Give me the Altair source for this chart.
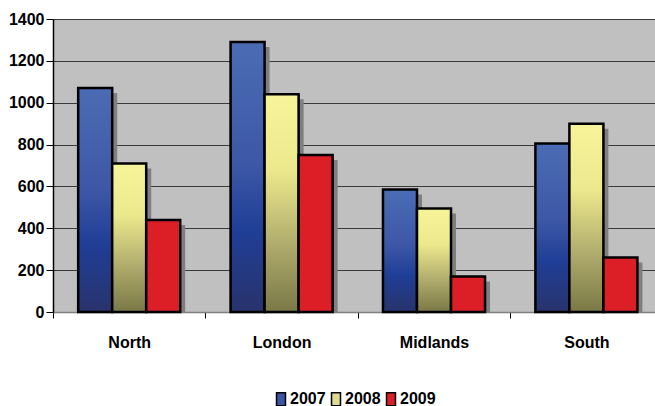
import altair as alt
import pandas as pd

# Regional figures per year
regions = ["North", "London", "Midlands", "South"]
years = ["2007", "2008", "2009"]
sales_2007 = [1070, 1290, 585, 805]
sales_2008 = [710, 1040, 495, 900]
sales_2009 = [440, 750, 170, 260]
y_ticks = [0, 200, 400, 600, 800, 1000, 1200, 1400]

rows = []
for yr, vals in zip(years, [sales_2007, sales_2008, sales_2009]):
    for reg, val in zip(regions, vals):
        rows.append({"region": reg, "year": yr, "value": val})
df = pd.DataFrame(rows)

FONT = "Liberation Sans, Arial, sans-serif"
PLOT_W, PLOT_H = 602, 293
BAND_SPAN = 609.6  # four category bands; the last one runs past the right edge
SHADOW = 5


def vgrad(stops):
    return alt.LinearGradient(
        gradient="linear",
        stops=[alt.GradientStop(color=c, offset=o) for o, c in stops],
        x1=0, x2=0, y1=0, y2=1,
    )


fills = {
    "2007": vgrad([(0, "#4b6cb4"), (0.45, "#3d58a6"), (0.7, "#1f3e96"), (1, "#29336c")]),
    "2008": vgrad([(0, "#f8f49a"), (0.35, "#ece88c"), (0.7, "#aeaa6c"), (1, "#7a7846")]),
    "2009": "#dc1f26",
}
legend_colors = ["#3a55a4", "#dedb90", "#dc1f26"]

x_enc = alt.X(
    "region:N",
    sort=regions,
    scale=alt.Scale(range=[0, BAND_SPAN], paddingInner=0, paddingOuter=0),
    axis=alt.Axis(
        title=None,
        tickBand="extent",
        tickSize=6,
        tickColor="black",
        tickWidth=1,
        domainColor="#808080",
        domainWidth=1.5,
        labelAngle=0,
        labelFont=FONT,
        labelFontSize=16,
        labelFontWeight="bold",
        labelColor="black",
        labelPadding=16,
    ),
)
xoff_scale = alt.Scale(paddingOuter=0.74, paddingInner=0)
xoff_enc = alt.XOffset("year:N", sort=years, scale=xoff_scale)
y_enc = alt.Y(
    "value:Q",
    scale=alt.Scale(domain=[0, 1400], nice=False),
    axis=alt.Axis(
        title=None,
        values=y_ticks,
        format="d",
        grid=True,
        gridColor="#3a3a3a",
        gridWidth=1,
        domainColor="black",
        domainWidth=1.5,
        tickColor="black",
        tickSize=7,
        labelFont=FONT,
        labelFontSize=16,
        labelFontWeight="bold",
        labelColor="black",
        labelPadding=2,
    ),
)

base = alt.Chart(df).encode(x=x_enc, xOffset=xoff_enc, y=y_enc)

# invisible layer that carries the year legend
legend_layer = base.mark_bar(opacity=0).encode(
    color=alt.Color(
        "year:N",
        sort=years,
        scale=alt.Scale(domain=years, range=legend_colors),
        legend=alt.Legend(
            title=None,
            orient="none",
            direction="horizontal",
            legendX=220,
            legendY=372,
            symbolType="M-0.69,-1H0.69V1H-0.69Z",
            symbolSize=169,
            symbolOpacity=1,
            symbolStrokeColor="black",
            symbolStrokeWidth=1.5,
            labelFont=FONT,
            labelFontSize=16,
            labelFontWeight="bold",
            labelColor="black",
            labelOffset=1,
            columnPadding=2,
            padding=0,
        ),
    )
)

# drop shadows: same bars on scales shifted right and down
shadows = alt.Chart(df).mark_bar(color="#7f7f7f", clip=True).encode(
    x=alt.X(
        "region:N",
        sort=regions,
        scale=alt.Scale(range=[SHADOW, BAND_SPAN + SHADOW], paddingInner=0, paddingOuter=0),
        axis=None,
    ),
    xOffset=alt.XOffset("year:N", sort=years, scale=xoff_scale),
    y=alt.Y(
        "value:Q",
        scale=alt.Scale(domain=[0, 1400], nice=False, range=[PLOT_H + SHADOW, SHADOW]),
        axis=None,
    ),
)

bars = alt.layer(*[
    base.transform_filter(alt.datum.year == yr).mark_bar(
        fill=fills[yr], stroke="black", strokeWidth=2.5
    )
    for yr in years
])

chart = (
    alt.layer(shadows, alt.layer(legend_layer, bars))
    .resolve_scale(x="independent", y="independent", xOffset="independent")
    .properties(
        width=PLOT_W,
        height=PLOT_H,
        padding={"left": 53, "top": 19, "right": 0, "bottom": 94},
        autosize=alt.AutoSizeParams(type="none"),
        background="white",
    )
    .configure_view(fill="#c0c0c0", strokeWidth=0)
)

chart.save("out.html", embed_options={"renderer": "svg", "actions": False})
